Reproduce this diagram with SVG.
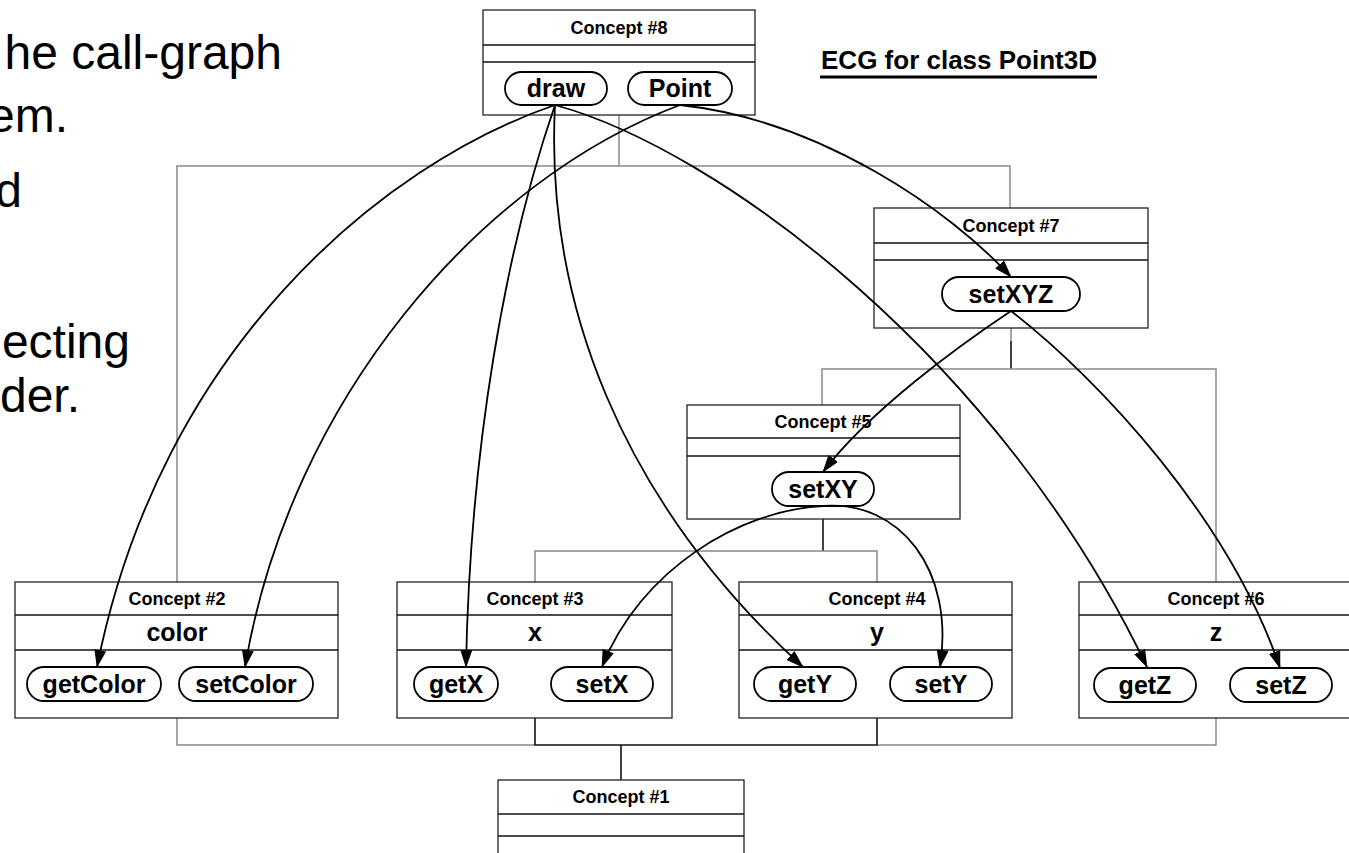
<svg xmlns="http://www.w3.org/2000/svg" width="1349" height="853" viewBox="0 0 1349 853">
  <style>
    .box { fill: #fff; stroke: #222; stroke-width: 1.3; }
    .sep { stroke: #111; stroke-width: 1.3; }
    .pill { fill: #fff; stroke: #000; stroke-width: 1.8; }
    .hdr { font-family: "Liberation Sans", Arial, sans-serif; font-weight: bold; font-size: 18px; text-anchor: middle; fill: #000; }
    .attr { font-family: "Liberation Sans", Arial, sans-serif; font-weight: bold; font-size: 25px; text-anchor: middle; fill: #000; }
    .meth { font-family: "Liberation Sans", Arial, sans-serif; font-weight: bold; font-size: 25px; text-anchor: middle; fill: #000; }
    .lat { fill: none; stroke: #8a8a8a; stroke-width: 1.5; }
    .latd { fill: none; stroke: #111; stroke-width: 1.6; }
    .call { fill: none; stroke: #000; stroke-width: 1.8; marker-end: url(#arr); }
    .side { font-family: "Liberation Sans", Arial, sans-serif; font-size: 48px; fill: #000; text-anchor: end; }
  </style>
  <defs>
    <marker id="arr" markerWidth="18" markerHeight="12" refX="17" refY="6" orient="auto" markerUnits="userSpaceOnUse">
      <path d="M0,0 L18,6 L0,12 Z" fill="#000"/>
    </marker>
  </defs>
  <rect width="1349" height="853" fill="#fff"/>

  <!-- slide text on the left -->
  <g id="side-text">
    <text class="side" x="282" y="69">he call-graph</text>
    <text class="side" x="68" y="132">em.</text>
    <text class="side" x="22" y="207">d</text>
    <text class="side" x="130" y="358">ecting</text>
    <text class="side" x="80" y="412">der.</text>
  </g>

  <!-- title -->
  <g id="title">
    <text x="1097" y="69" text-anchor="end" font-family="Liberation Sans, Arial, sans-serif" font-weight="bold" font-size="26" fill="#000">ECG for class Point3D</text>
    <line x1="820" y1="77" x2="1097" y2="77" stroke="#000" stroke-width="3"/>
  </g>

  <!-- concept lattice lines -->
  <g id="lattice">
    <polyline class="lat" points="619,115 619,166"/>
    <polyline class="lat" points="177,582 177,166 1010,166 1010,208"/>
    <polyline class="lat" points="1011,328 1011,341"/>
    <polyline class="latd" points="1011,341 1011,369"/>
    <polyline class="lat" points="822,405 822,369 1216,369 1216,582"/>
    <polyline class="latd" points="823,519 823,551"/>
    <polyline class="lat" points="535,582 535,551 877,551 877,582"/>
    <polyline class="lat" points="177,718 177,745 535,745"/>
    <polyline class="lat" points="877,745 1216,745 1216,718"/>
    <polyline class="latd" points="535,718 535,745 877,745 877,718"/>
    <polyline class="latd" points="621,745 621,780"/>
  </g>

  <!-- concept boxes -->
  <g id="concept8">
    <rect class="box" x="483" y="10" width="272" height="105"/>
    <line class="sep" x1="483" y1="45" x2="755" y2="45"/>
    <line class="sep" x1="483" y1="62" x2="755" y2="62"/>
    <text class="hdr" x="619" y="34">Concept #8</text>
    <rect class="pill" x="505" y="72" width="102" height="33" rx="16.5"/>
    <text class="meth" x="556" y="97">draw</text>
    <rect class="pill" x="628" y="72" width="104" height="33" rx="16.5"/>
    <text class="meth" x="680" y="97">Point</text>
  </g>

  <g id="concept7">
    <rect class="box" x="874" y="208" width="274" height="120"/>
    <line class="sep" x1="874" y1="243" x2="1148" y2="243"/>
    <line class="sep" x1="874" y1="260" x2="1148" y2="260"/>
    <text class="hdr" x="1011" y="232">Concept #7</text>
    <rect class="pill" x="942" y="277" width="138" height="34" rx="17"/>
    <text class="meth" x="1011" y="303">setXYZ</text>
  </g>

  <g id="concept5">
    <rect class="box" x="687" y="405" width="273" height="114"/>
    <line class="sep" x1="687" y1="438" x2="960" y2="438"/>
    <line class="sep" x1="687" y1="456" x2="960" y2="456"/>
    <text class="hdr" x="823" y="428">Concept #5</text>
    <rect class="pill" x="772" y="472" width="102" height="34" rx="17"/>
    <text class="meth" x="823" y="498">setXY</text>
  </g>

  <g id="concept2">
    <rect class="box" x="15" y="582" width="323" height="136"/>
    <line class="sep" x1="15" y1="615" x2="338" y2="615"/>
    <line class="sep" x1="15" y1="650" x2="338" y2="650"/>
    <text class="hdr" x="177" y="605">Concept #2</text>
    <text class="attr" x="177" y="641">color</text>
    <rect class="pill" x="27" y="667" width="134" height="34" rx="17"/>
    <text class="meth" x="94" y="693">getColor</text>
    <rect class="pill" x="179" y="667" width="134" height="34" rx="17"/>
    <text class="meth" x="246" y="693">setColor</text>
  </g>

  <g id="concept3">
    <rect class="box" x="397" y="582" width="275" height="136"/>
    <line class="sep" x1="397" y1="615" x2="672" y2="615"/>
    <line class="sep" x1="397" y1="650" x2="672" y2="650"/>
    <text class="hdr" x="535" y="605">Concept #3</text>
    <text class="attr" x="535" y="641">x</text>
    <rect class="pill" x="414" y="667" width="84" height="34" rx="17"/>
    <text class="meth" x="456" y="693">getX</text>
    <rect class="pill" x="551" y="667" width="102" height="34" rx="17"/>
    <text class="meth" x="602" y="693">setX</text>
  </g>

  <g id="concept4">
    <rect class="box" x="739" y="582" width="273" height="136"/>
    <line class="sep" x1="739" y1="615" x2="1012" y2="615"/>
    <line class="sep" x1="739" y1="650" x2="1012" y2="650"/>
    <text class="hdr" x="877" y="605">Concept #4</text>
    <text class="attr" x="877" y="641">y</text>
    <rect class="pill" x="754" y="667" width="102" height="34" rx="17"/>
    <text class="meth" x="805" y="693">getY</text>
    <rect class="pill" x="890" y="667" width="102" height="34" rx="17"/>
    <text class="meth" x="941" y="693">setY</text>
  </g>

  <g id="concept6">
    <rect class="box" x="1079" y="582" width="274" height="136"/>
    <line class="sep" x1="1079" y1="615" x2="1353" y2="615"/>
    <line class="sep" x1="1079" y1="650" x2="1353" y2="650"/>
    <text class="hdr" x="1216" y="605">Concept #6</text>
    <text class="attr" x="1216" y="641">z</text>
    <rect class="pill" x="1094" y="668" width="102" height="34" rx="17"/>
    <text class="meth" x="1145" y="694">getZ</text>
    <rect class="pill" x="1230" y="668" width="102" height="34" rx="17"/>
    <text class="meth" x="1281" y="694">setZ</text>
  </g>

  <g id="concept1">
    <rect class="box" x="498" y="780" width="246" height="90"/>
    <line class="sep" x1="498" y1="814" x2="744" y2="814"/>
    <line class="sep" x1="498" y1="836" x2="744" y2="836"/>
    <text class="hdr" x="621" y="803">Concept #1</text>
  </g>

  <!-- call edges -->
  <g id="calls">
    <path class="call" d="M555,105 C380,165 160,350 97,667"/>
    <path class="call" d="M680,105 C480,180 290,400 245,667"/>
    <path class="call" d="M555,105 C505,250 470,450 466,667"/>
    <path class="call" d="M555,105 C545,300 620,500 803,667"/>
    <path class="call" d="M555,105 C720,150 1000,360 1147,667"/>
    <path class="call" d="M680,105 C820,120 950,210 1011,277"/>
    <path class="call" d="M1011,311 C960,345 870,410 823,472"/>
    <path class="call" d="M1011,311 C1100,380 1230,520 1280,668"/>
    <path class="call" d="M823,506 C740,510 640,570 602,667"/>
    <path class="call" d="M823,506 C900,500 955,570 940,667"/>
  </g>
</svg>
